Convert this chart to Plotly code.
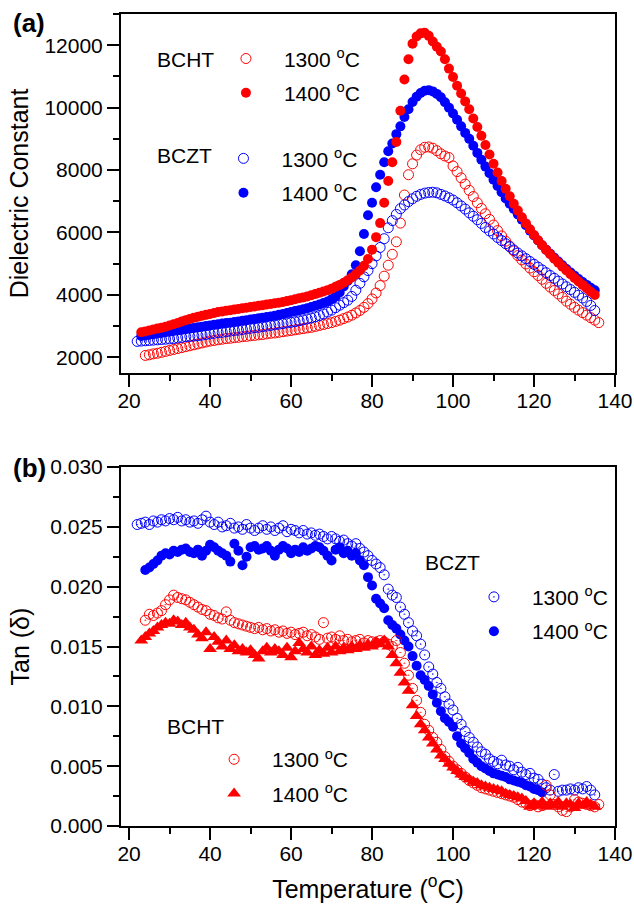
import plotly.graph_objects as go

# температуры измерений, °C
temp_bcht_1300 = [
    24, 25, 26, 27, 28, 29, 30, 31, 32, 33,
    34, 35, 36, 37, 38, 39, 40, 41, 42, 43,
    44, 45, 46, 47, 48, 49, 50, 51, 52, 53,
    54, 55, 56, 57, 58, 59, 60, 61, 62, 63,
    64, 65, 66, 67, 68, 69, 70, 71, 72, 73,
    74, 75, 76, 77, 78, 79, 80, 81, 82, 83,
    84, 85, 86, 87, 88, 89, 90, 91, 92, 93,
    94, 95, 96, 97, 98, 99, 100, 101, 102, 103,
    104, 105, 106, 107, 108, 109, 110, 111, 112, 113,
    114, 115, 116, 117, 118, 119, 120, 121, 122, 123,
    124, 125, 126, 127, 128, 129, 130, 131, 132, 133,
    134, 135, 136]
temp_bcht_1400 = [
    23, 24, 25, 26, 27, 28, 29, 30, 31, 32,
    33, 34, 35, 36, 37, 38, 39, 40, 41, 42,
    43, 44, 45, 46, 47, 48, 49, 50, 51, 52,
    53, 54, 55, 56, 57, 58, 59, 60, 61, 62,
    63, 64, 65, 66, 67, 68, 69, 70, 71, 72,
    73, 74, 75, 76, 77, 78, 79, 80, 81, 82,
    83, 84, 85, 86, 87, 88, 89, 90, 91, 92,
    93, 94, 95, 96, 97, 98, 99, 100, 101, 102,
    103, 104, 105, 106, 107, 108, 109, 110, 111, 112,
    113, 114, 115, 116, 117, 118, 119, 120, 121, 122,
    123, 124, 125, 126, 127, 128, 129, 130, 131, 132,
    133, 134, 135]
temp_bczt_1300 = [
    22, 23, 24, 25, 26, 27, 28, 29, 30, 31,
    32, 33, 34, 35, 36, 37, 38, 39, 40, 41,
    42, 43, 44, 45, 46, 47, 48, 49, 50, 51,
    52, 53, 54, 55, 56, 57, 58, 59, 60, 61,
    62, 63, 64, 65, 66, 67, 68, 69, 70, 71,
    72, 73, 74, 75, 76, 77, 78, 79, 80, 81,
    82, 83, 84, 85, 86, 87, 88, 89, 90, 91,
    92, 93, 94, 95, 96, 97, 98, 99, 100, 101,
    102, 103, 104, 105, 106, 107, 108, 109, 110, 111,
    112, 113, 114, 115, 116, 117, 118, 119, 120, 121,
    122, 123, 124, 125, 126, 127, 128, 129, 130, 131,
    132, 133, 134, 135]
temp_bczt_1400 = [
    23, 24, 25, 26, 27, 28, 29, 30, 31, 32,
    33, 34, 35, 36, 37, 38, 39, 40, 41, 42,
    43, 44, 45, 46, 47, 48, 49, 50, 51, 52,
    53, 54, 55, 56, 57, 58, 59, 60, 61, 62,
    63, 64, 65, 66, 67, 68, 69, 70, 71, 72,
    73, 74, 75, 76, 77, 78, 79, 80, 81, 82,
    83, 84, 85, 86, 87, 88, 89, 90, 91, 92,
    93, 94, 95, 96, 97, 98, 99, 100, 101, 102,
    103, 104, 105, 106, 107, 108, 109, 110, 111, 112,
    113, 114, 115, 116, 117, 118, 119, 120, 121, 122,
    123, 124, 125, 126, 127, 128, 129, 130, 131, 132,
    133, 134, 135]
temp_bczt_1400_tan = [
    24, 25, 26, 27, 28, 29, 30, 31, 32, 33,
    34, 35, 36, 37, 38, 39, 40, 41, 42, 43,
    44, 45, 46, 47, 48, 49, 50, 51, 52, 53,
    54, 55, 56, 57, 58, 59, 60, 61, 62, 63,
    64, 65, 66, 67, 68, 69, 70, 71, 72, 73,
    74, 75, 76, 77, 78, 79, 80, 81, 82, 83,
    84, 85, 86, 87, 88, 89, 90, 91, 92, 93,
    94, 95, 96, 97, 98, 99, 100, 101, 102, 103,
    104, 105, 106, 107, 108, 109, 110, 111, 112, 113,
    114, 115, 116, 117, 118, 119, 120, 121, 122]

# (a) диэлектрическая проницаемость
eps_bcht_1300 = [
    2060, 2080, 2110, 2130, 2160, 2190, 2220, 2250, 2280, 2310,
    2340, 2370, 2400, 2430, 2460, 2490, 2520, 2540, 2560, 2580,
    2600, 2610, 2630, 2640, 2660, 2670, 2690, 2700, 2720, 2730,
    2750, 2770, 2780, 2800, 2820, 2840, 2860, 2880, 2900, 2920,
    2940, 2960, 2990, 3020, 3050, 3080, 3110, 3150, 3190, 3240,
    3290, 3350, 3420, 3500, 3600, 3720, 3870, 4060, 4300, 4600,
    4950, 5300, 5700, 6300, 7200, 7850, 8200, 8480, 8650, 8730,
    8740, 8700, 8620, 8520, 8450, 8400, 8130, 7950, 7750, 7550,
    7350, 7150, 6950, 6770, 6600, 6420, 6240, 6060, 5890, 5720,
    5560, 5410, 5260, 5120, 4990, 4860, 4740, 4620, 4500, 4370,
    4250, 4140, 4030, 3920, 3800, 3700, 3600, 3510, 3430, 3350,
    3270, 3190, 3110]
eps_bcht_1400 = [
    2800, 2830, 2860, 2890, 2920, 2950, 2980, 3020, 3060, 3100,
    3150, 3190, 3230, 3270, 3300, 3330, 3360, 3390, 3420, 3450,
    3470, 3490, 3510, 3530, 3550, 3570, 3590, 3610, 3630, 3650,
    3670, 3690, 3710, 3730, 3750, 3770, 3800, 3830, 3860, 3890,
    3920, 3950, 3990, 4030, 4070, 4110, 4150, 4200, 4260, 4320,
    4390, 4470, 4560, 4660, 4780, 4930, 5150, 5450, 5850, 6300,
    6950, 7650, 8250, 8900, 9900, 10900, 11550, 12050, 12280, 12380,
    12400, 12300, 12120, 11950, 11800, 11550, 11250, 10980, 10700, 10450,
    10200, 9950, 9650, 9380, 9100, 8800, 8500, 8200, 7920, 7650,
    7400, 7160, 6920, 6700, 6490, 6290, 6100, 5920, 5750, 5590,
    5440, 5300, 5160, 5030, 4900, 4780, 4660, 4540, 4430, 4320,
    4210, 4100, 4000]
eps_bczt_1300 = [
    2510, 2520, 2530, 2540, 2550, 2560, 2570, 2580, 2590, 2600,
    2620, 2640, 2660, 2670, 2680, 2690, 2710, 2730, 2750, 2770,
    2790, 2800, 2820, 2840, 2860, 2870, 2890, 2910, 2930, 2950,
    2960, 2980, 3000, 3020, 3040, 3060, 3080, 3100, 3120, 3140,
    3170, 3200, 3230, 3260, 3300, 3340, 3390, 3450, 3510, 3590,
    3670, 3750, 3830, 3950, 4150, 4370, 4580, 4780, 5000, 5250,
    5520, 5800, 6150, 6380, 6580, 6760, 6880, 6990, 7080, 7160,
    7220, 7260, 7280, 7290, 7270, 7220, 7170, 7110, 7040, 6950,
    6850, 6750, 6630, 6520, 6410, 6290, 6160, 6050, 5950, 5840,
    5740, 5640, 5540, 5440, 5340, 5250, 5160, 5070, 4980, 4890,
    4800, 4710, 4620, 4530, 4440, 4350, 4260, 4170, 4080, 3990,
    3900, 3790, 3660, 3500]
eps_bczt_1400 = [
    2680, 2700, 2720, 2740, 2760, 2780, 2800, 2820, 2840, 2860,
    2880, 2900, 2920, 2940, 2960, 2980, 3000, 3020, 3040, 3060,
    3080, 3100, 3110, 3130, 3150, 3170, 3190, 3210, 3230, 3250,
    3270, 3290, 3310, 3330, 3360, 3390, 3420, 3450, 3480, 3510,
    3540, 3570, 3610, 3650, 3690, 3740, 3790, 3860, 3950, 4080,
    4270, 4450, 4660, 4950, 5400, 5950, 6550, 6950, 7450, 7850,
    8250, 8600, 8850, 9150, 9400, 9700, 9950, 10180, 10350, 10470,
    10540, 10560, 10520, 10440, 10330, 10170, 10000, 9810, 9610, 9400,
    9190, 9000, 8780, 8550, 8330, 8110, 7900, 7690, 7490, 7290,
    7090, 6920, 6750, 6580, 6410, 6230, 6060, 5900, 5740, 5590,
    5450, 5320, 5190, 5070, 4950, 4830, 4720, 4610, 4510, 4410,
    4320, 4230, 4150]

# (b) тангенс угла потерь
tan_bczt_1300 = [
    0.0252, 0.0253, 0.0254, 0.0252, 0.0255, 0.0254, 0.0256, 0.0255, 0.0257, 0.0256,
    0.0258, 0.0255, 0.0256, 0.0254, 0.0255, 0.0253, 0.0256, 0.0259, 0.0254, 0.0252,
    0.0254, 0.0250, 0.0251, 0.0253, 0.0249, 0.0250, 0.0248, 0.0252, 0.0249, 0.0247,
    0.0249, 0.0251, 0.0248, 0.0250, 0.0247, 0.0249, 0.0251, 0.0246, 0.0248, 0.0247,
    0.0245, 0.0247, 0.0244, 0.0245, 0.0243, 0.0244, 0.0242, 0.0240, 0.0242, 0.0240,
    0.0238, 0.0239, 0.0236, 0.0234, 0.0236, 0.0232, 0.0229, 0.0226, 0.0222, 0.0219,
    0.0216, 0.0210, 0.0198, 0.0193, 0.0191, 0.0183, 0.0177, 0.0170, 0.0163, 0.0159,
    0.0152, 0.0143, 0.0133, 0.0127, 0.0120, 0.0115, 0.0108, 0.0102, 0.0097, 0.0090,
    0.0085, 0.0079, 0.0074, 0.0070, 0.0066, 0.0062, 0.0060, 0.0056, 0.0054, 0.0052,
    0.0055, 0.0051, 0.0050, 0.0047, 0.0049, 0.0045, 0.0043, 0.0044, 0.0040, 0.0039,
    0.0035, 0.0032, 0.0030, 0.0043, 0.0029, 0.0030, 0.0030, 0.0031, 0.0030, 0.0032,
    0.0031, 0.0033, 0.0030, 0.0026]
tan_bczt_1400 = [
    0.0214, 0.0216, 0.0219, 0.0222, 0.0226, 0.0228, 0.0227, 0.0230, 0.0229, 0.0231,
    0.0232, 0.0229, 0.0228, 0.0231, 0.0226, 0.0230, 0.0235, 0.0233, 0.0230, 0.0228,
    0.0226, 0.0221, 0.0236, 0.0230, 0.0218, 0.0225, 0.0233, 0.0234, 0.0231, 0.0232,
    0.0234, 0.0230, 0.0226, 0.0231, 0.0234, 0.0232, 0.0228, 0.0231, 0.0229, 0.0233,
    0.0230, 0.0232, 0.0234, 0.0233, 0.0230, 0.0226, 0.0222, 0.0231, 0.0233, 0.0228,
    0.0230, 0.0226, 0.0228, 0.0222, 0.0218, 0.0208, 0.0201, 0.0190, 0.0186, 0.0182,
    0.0172, 0.0168, 0.0165, 0.0160, 0.0155, 0.0150, 0.0142, 0.0134, 0.0126, 0.0122,
    0.0117, 0.0110, 0.0103, 0.0096, 0.0090, 0.0087, 0.0083, 0.0075, 0.0069, 0.0065,
    0.0061, 0.0056, 0.0053, 0.0050, 0.0048, 0.0046, 0.0044, 0.0043, 0.0042, 0.0041,
    0.0039, 0.0038, 0.0037, 0.0036, 0.0034, 0.0033, 0.0031, 0.0030, 0.0028]
tan_bcht_1300 = [
    0.0172, 0.0177, 0.0176, 0.0178, 0.0180, 0.0185, 0.0189, 0.0193, 0.0191, 0.0190,
    0.0189, 0.0187, 0.0185, 0.0183, 0.0181, 0.0180, 0.0177, 0.0176, 0.0174, 0.0173,
    0.0179, 0.0172, 0.0170, 0.0169, 0.0168, 0.0167, 0.0166, 0.0165, 0.0166, 0.0164,
    0.0165, 0.0163, 0.0164, 0.0162, 0.0163, 0.0161, 0.0162, 0.0160, 0.0161, 0.0162,
    0.0159, 0.0160, 0.0158, 0.0156, 0.0170, 0.0157, 0.0158, 0.0156, 0.0159, 0.0155,
    0.0156, 0.0154, 0.0155, 0.0156, 0.0153, 0.0155, 0.0154, 0.0153, 0.0155, 0.0154,
    0.0152, 0.0150, 0.0155, 0.0145, 0.0136, 0.0126, 0.0115, 0.0105, 0.0095, 0.0085,
    0.0080, 0.0074, 0.0070, 0.0064, 0.0058, 0.0054, 0.0050, 0.0047, 0.0044, 0.0041,
    0.0038, 0.0036, 0.0034, 0.0032, 0.0031, 0.0030, 0.0029, 0.0028, 0.0027, 0.0026,
    0.0025, 0.0024, 0.0022, 0.0020, 0.0019, 0.0017, 0.0018, 0.0016, 0.0017, 0.0034,
    0.0026, 0.0018, 0.0016, 0.0013, 0.0012, 0.0016, 0.0022, 0.0020, 0.0019, 0.0018,
    0.0017, 0.0016, 0.0018]
tan_bcht_1400 = [
    0.0155, 0.0158, 0.0161, 0.0163, 0.0166, 0.0168, 0.0170, 0.0169, 0.0172, 0.0171,
    0.0168, 0.0170, 0.0166, 0.0164, 0.0160, 0.0157, 0.0162, 0.0148, 0.0158, 0.0154,
    0.0150, 0.0155, 0.0148, 0.0151, 0.0146, 0.0148, 0.0145, 0.0147, 0.0143, 0.0140,
    0.0146, 0.0149, 0.0145, 0.0148, 0.0146, 0.0143, 0.0149, 0.0141, 0.0146, 0.0153,
    0.0148, 0.0145, 0.0150, 0.0143, 0.0147, 0.0144, 0.0149, 0.0145, 0.0150, 0.0146,
    0.0149, 0.0147, 0.0150, 0.0148, 0.0151, 0.0149, 0.0152, 0.0150, 0.0154, 0.0152,
    0.0155, 0.0150, 0.0143, 0.0136, 0.0128, 0.0120, 0.0113, 0.0101, 0.0092, 0.0085,
    0.0080, 0.0074, 0.0069, 0.0064, 0.0059, 0.0056, 0.0052, 0.0049, 0.0046, 0.0043,
    0.0041, 0.0039, 0.0037, 0.0036, 0.0034, 0.0033, 0.0032, 0.0031, 0.0030, 0.0029,
    0.0027, 0.0026, 0.0025, 0.0024, 0.0023, 0.0021, 0.0016, 0.0019, 0.0017, 0.0020,
    0.0016, 0.0019, 0.0017, 0.0020, 0.0016, 0.0019, 0.0018, 0.0015, 0.0019, 0.0017,
    0.0020, 0.0018, 0.0016]

RED = '#FF0000'
BLUE = '#0000FF'
FONT = 'Liberation Sans, Arial, sans-serif'
lbl_1300 = '1300 <sup>o</sup>C'
lbl_1400 = '1400 <sup>o</sup>C'

fig = go.Figure()


def add_pts(x, y, name, color, symbol, xa, ya, legend, group, size=10):
    # открытые символы рисуем контуром, закрашенные - без обводки
    is_open = 'open' in symbol
    fig.add_trace(go.Scatter(
        x=x, y=y, mode='markers', name=name,
        xaxis=xa, yaxis=ya, legend=legend, legendgroup=group,
        marker=dict(symbol=symbol, size=size, color=color,
                    line=dict(width=1 if is_open else 0, color=color))))


# (a)
add_pts(temp_bcht_1300, eps_bcht_1300, lbl_1300, RED, 'circle-open', 'x', 'y', 'legend', 'a1')
add_pts(temp_bczt_1300, eps_bczt_1300, lbl_1300, BLUE, 'circle-open', 'x', 'y', 'legend2', 'a3')
add_pts(temp_bczt_1400, eps_bczt_1400, lbl_1400, BLUE, 'circle', 'x', 'y', 'legend2', 'a4')
add_pts(temp_bcht_1400, eps_bcht_1400, lbl_1400, RED, 'circle', 'x', 'y', 'legend', 'a2')

# (b)
add_pts(temp_bczt_1300, tan_bczt_1300, lbl_1300, BLUE, 'circle-open-dot', 'x2', 'y2', 'legend3', 'b1')
add_pts(temp_bczt_1400_tan, tan_bczt_1400, lbl_1400, BLUE, 'circle', 'x2', 'y2', 'legend3', 'b2')
add_pts(temp_bcht_1300, tan_bcht_1300, lbl_1300, RED, 'circle-open-dot', 'x2', 'y2', 'legend4', 'b3')
add_pts(temp_bcht_1400, tan_bcht_1400, lbl_1400, RED, 'triangle-up', 'x2', 'y2', 'legend4', 'b4', 12)

ax = dict(showline=True, mirror=True, linewidth=2, linecolor='black',
          ticks='outside', ticklen=12, tickwidth=2, tickcolor='black',
          showgrid=False, zeroline=False, ticklabelstandoff=0, automargin=False,
          tickfont=dict(size=21, color='black'))
x_common = dict(ax, range=[18, 140], tick0=0, dtick=20, ticklabelstandoff=-4,
                minor=dict(tick0=0, dtick=10, ticks='outside', ticklen=6, tickwidth=2, tickcolor='black'))

leg = dict(xanchor='left', yanchor='top', bgcolor='rgba(0,0,0,0)', borderwidth=0,
           font=dict(size=21, color='black', family=FONT), itemwidth=66,
           traceorder='grouped', tracegroupgap=4, itemclick=False, itemdoubleclick=False)

# ширину и высоту задаём через div (см. write_html ниже)
fig.update_layout(
    autosize=True,
    margin=dict(l=121, r=19, t=14, b=78),
    paper_bgcolor='white', plot_bgcolor='white',
    font=dict(family=FONT, size=21, color='black'),
    xaxis=dict(x_common, anchor='y', domain=[0, 1]),
    yaxis=dict(ax, anchor='x', domain=[0.558, 1], range=[1500, 13000], tick0=0, dtick=2000,
               tickformat='d',
               minor=dict(tick0=0, dtick=1000, ticks='outside', ticklen=6, tickwidth=2, tickcolor='black'),
               title=dict(text='Dielectric Constant', font=dict(size=25), standoff=9)),
    xaxis2=dict(x_common, anchor='y2', domain=[0, 1],
                title=dict(text='Temperature (<sup>o</sup>C)', font=dict(size=25), standoff=16)),
    yaxis2=dict(ax, anchor='x2', domain=[0, 0.442], range=[0, 0.030], tick0=0, dtick=0.005,
                tickformat='.3f',
                minor=dict(tick0=0, dtick=0.0025, ticks='outside', ticklen=6, tickwidth=2, tickcolor='black'),
                title=dict(text='Tan (δ)', font=dict(size=25), standoff=13)),
    legend=dict(leg, x=0.176, y=0.970),
    legend2=dict(leg, x=0.171, y=0.847),
    legend3=dict(leg, x=0.678, y=0.307),
    legend4=dict(leg, x=0.152, y=0.107),
    annotations=[
        dict(text='<b>(a)</b>', x=-0.223, y=0.989, xref='paper', yref='paper',
             xanchor='left', yanchor='middle', showarrow=False, font=dict(size=26)),
        dict(text='<b>(b)</b>', x=-0.223, y=0.441, xref='paper', yref='paper',
             xanchor='left', yanchor='middle', showarrow=False, font=dict(size=26)),
        dict(text='BCHT', x=0.069, y=0.9435, xref='paper', yref='paper',
             xanchor='left', yanchor='middle', showarrow=False),
        dict(text='BCZT', x=0.069, y=0.8255, xref='paper', yref='paper',
             xanchor='left', yanchor='middle', showarrow=False),
        dict(text='BCZT', x=0.611, y=0.3245, xref='paper', yref='paper',
             xanchor='left', yanchor='middle', showarrow=False),
        dict(text='BCHT', x=0.089, y=0.123, xref='paper', yref='paper',
             xanchor='left', yanchor='middle', showarrow=False),
    ],
)

# div прижимаем к левому верхнему углу окна, чтобы отступ body не сдвигал график
fig.write_html("out.html", config={'displayModeBar': False},
               default_width="634px; position:absolute; left:0px; top:0px",
               default_height="904px")
